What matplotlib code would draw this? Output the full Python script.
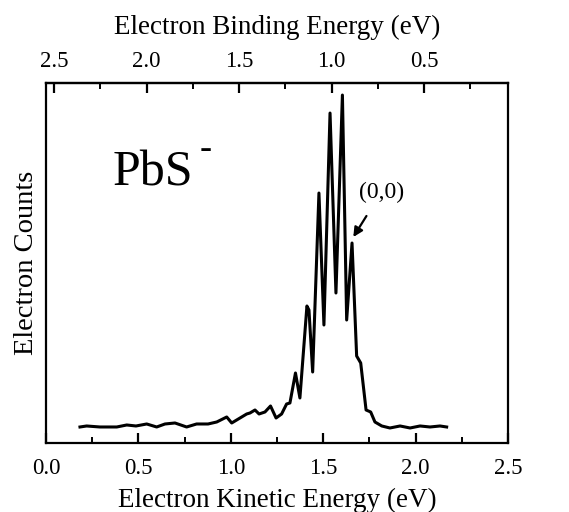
import numpy as np
import matplotlib
matplotlib.use('Agg')
import matplotlib.pyplot as plt

plt.rcParams['font.family'] = ['Liberation Serif', 'DejaVu Serif']

# photon energy used to convert kinetic -> binding energy (eV)
hv = 2.545

# spectrum: kinetic energy (eV) and counts (arb.)
ke = [0.184, 0.220, 0.292, 0.383, 0.437, 0.487, 0.545, 0.599, 0.644, 0.698,
      0.761, 0.815, 0.877, 0.924, 0.978, 1.005, 1.050, 1.086, 1.104, 1.131,
      1.153, 1.185, 1.215, 1.245, 1.275, 1.302, 1.320, 1.350, 1.374, 1.412,
      1.423, 1.443, 1.477, 1.504, 1.537, 1.569, 1.604, 1.627, 1.656, 1.681,
      1.703, 1.732, 1.757, 1.780, 1.817, 1.861, 1.916, 1.970, 2.024, 2.078,
      2.132, 2.168]
counts = [16, 17, 16, 16, 18, 17, 19, 16, 19, 20,
          16, 19, 19, 21, 26, 20, 25, 29, 30, 33,
          29, 31, 37, 25, 29, 39, 40, 70, 45, 137,
          133, 71, 250, 118, 330, 150, 348, 123, 200, 87,
          80, 33, 31, 21, 17, 15, 17, 15, 17, 16,
          17, 16]

fig = plt.figure(figsize=(5.69, 5.12), dpi=100)
ax = fig.add_axes([0.0808, 0.1348, 0.812, 0.703])
ax.plot(ke, counts, color='black', lw=2.2)
ax.set_xlim(0, 2.5)
ax.set_ylim(0, 360)
ax.set_yticks([])
ax.set_xticks([0.0, 0.5, 1.0, 1.5, 2.0, 2.5])
ax.set_xticklabels(['0.0', '0.5', '1.0', '1.5', '2.0', '2.5'])
ax.set_xticks(np.arange(0.25, 2.5, 0.5), minor=True)
ax.tick_params(axis='x', which='major', direction='in', length=7, width=1.6,
               labelsize=16.5, pad=11)
ax.tick_params(axis='x', which='minor', direction='in', length=4, width=1.4)
for s in ax.spines.values():
    s.set_linewidth(1.6)
ax.set_xlabel('Electron Kinetic Energy (eV)', fontsize=19.5, labelpad=6)
ax.set_ylabel('Electron Counts', fontsize=20.5, labelpad=5)

top = ax.secondary_xaxis('top', functions=(lambda x: hv - x, lambda b: hv - b))
top.set_xticks([2.5, 2.0, 1.5, 1.0, 0.5])
top.set_xticklabels(['2.5', '2.0', '1.5', '1.0', '0.5'])
top.set_xticks([2.25, 1.75, 1.25, 0.75, 0.25], minor=True)
top.tick_params(axis='x', which='major', direction='in', length=7, width=1.6,
                labelsize=16.5, pad=8)
top.tick_params(axis='x', which='minor', direction='in', length=4, width=1.4)
top.spines['top'].set_linewidth(1.6)
top.set_xlabel('Electron Binding Energy (eV)', fontsize=19.5, labelpad=12)

ax.text(0.145, 0.714, 'PbS', transform=ax.transAxes, fontsize=36,
        ha='left', va='baseline')
ax.text(0.333, 0.792, '-', transform=ax.transAxes, fontsize=26,
        ha='left', va='baseline')

ax.annotate('(0,0)', xy=(1.663, 206), xytext=(1.815, 251),
            fontsize=17, ha='center', va='center',
            arrowprops=dict(arrowstyle='-|>', color='black', lw=1.6,
                            mutation_scale=14, shrinkA=9, shrinkB=0))

fig.savefig('out.png', dpi=100)
